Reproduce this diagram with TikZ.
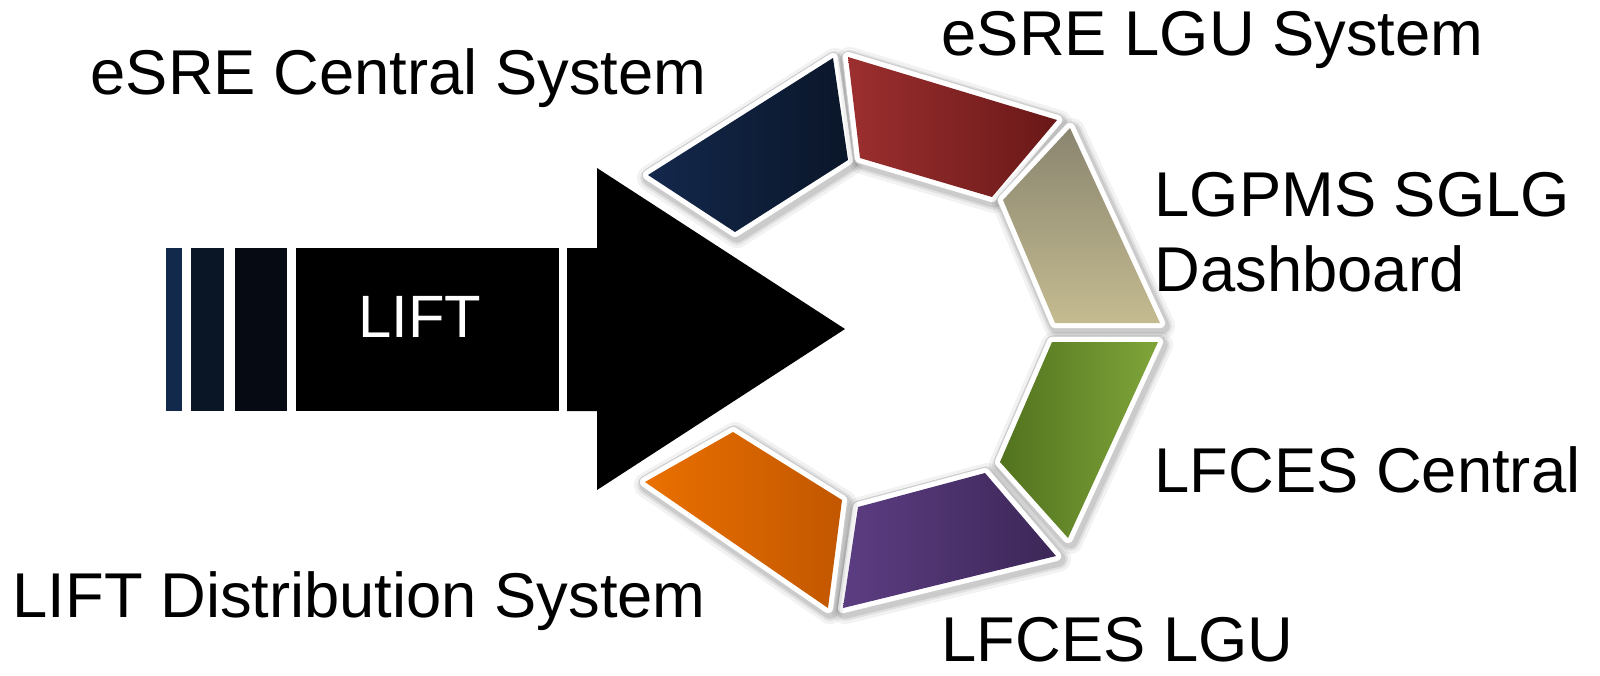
\documentclass[tikz,border=0pt]{standalone}
\usepackage{fontspec}
\setmainfont{Liberation Sans}
\definecolor{stripeA}{HTML}{13294C}
\definecolor{stripeB}{HTML}{0A1526}
\definecolor{stripeC}{HTML}{050A13}
\definecolor{navyL}{HTML}{14284C}
\definecolor{navyR}{HTML}{0A1629}
\definecolor{redL}{HTML}{9C2F2F}
\definecolor{redR}{HTML}{6A1818}
\definecolor{tanT}{HTML}{8A8570}
\definecolor{tanB}{HTML}{C4BB90}
\definecolor{greenL}{HTML}{52721E}
\definecolor{greenR}{HTML}{7FA53A}
\definecolor{purpL}{HTML}{5C3D82}
\definecolor{purpR}{HTML}{3C2757}
\definecolor{orL}{HTML}{EA7000}
\definecolor{orR}{HTML}{C25700}
\newcommand\ringseg[2]{%
  \begin{scope}[shift={(2,3)}]
    \draw[black,opacity=0.05,line width=7.4pt,line join=round] #1 -- cycle;
    \draw[black,opacity=0.07,line width=5.6pt,line join=round] #1 -- cycle;
    \draw[black,opacity=0.09,line width=4.4pt,line join=round] #1 -- cycle;
  \end{scope}
  \draw[gray!40,fill=white,line width=3.5pt,line join=round] #1 -- cycle;
  \draw[white,fill=white,line width=2.9pt,line join=round] #1 -- cycle;
  \shade[#2] #1 -- cycle;
}
\begin{document}
\begin{tikzpicture}[x=0.01cm,y=-0.01cm,
  lbl/.style={anchor=base west,inner sep=0pt,font=\fontsize{18}{21.6}\selectfont,text=black},
  barfill/.style={draw=none}]
\useasboundingbox[fill=white] (0,0) rectangle (1600,675);

% ring segments
\ringseg{(648,175) -- (833,58) -- (848,160) -- (735,232)}{left color=navyL,right color=navyR}
\ringseg{(848,57) -- (1057,120) -- (992,197) -- (860,158)}{left color=redL,right color=redR}
\ringseg{(1070,128) -- (1160,323) -- (1055,323) -- (1003,200)}{top color=tanT,bottom color=tanB}
\ringseg{(1052,342) -- (1158,342) -- (1068,538) -- (1000,462)}{left color=greenL,right color=greenR}
\ringseg{(858,507) -- (985,473) -- (1056,556) -- (843,608)}{left color=purpL,right color=purpR}
\ringseg{(645,482) -- (733,432) -- (842,500) -- (828,608)}{left color=orL,right color=orR}

% arrow
\fill[stripeA] (166,248) rectangle (182,411);
\fill[stripeB] (191,248) rectangle (224,411);
\fill[stripeC] (235,248) rectangle (287,411);
\fill[black] (296,248) rectangle (559,411);
\fill[black] (567,248) -- (597,248) -- (597,168) -- (845,329) -- (597,490) -- (597,411) -- (567,411) -- cycle;
\node[anchor=base,inner sep=0pt,font=\fontsize{17}{20}\selectfont,text=white] (lift) at (420,337) {LIFT};

% labels
\node[lbl] (central) at (90,94) {eSRE Central System};
\node[lbl] (lgusys) at (941,55) {eSRE LGU System};
\node[lbl] (lgpms) at (1154,216) {LGPMS SGLG};
\node[lbl] (dash) at (1154,291) {Dashboard};
\node[lbl] (lfcesc) at (1154,492) {LFCES Central};
\node[lbl] (lfcesl) at (941,661) {LFCES LGU};
\node[lbl] (dist) at (12,617) {LIFT Distribution System};
\end{tikzpicture}
\end{document}
